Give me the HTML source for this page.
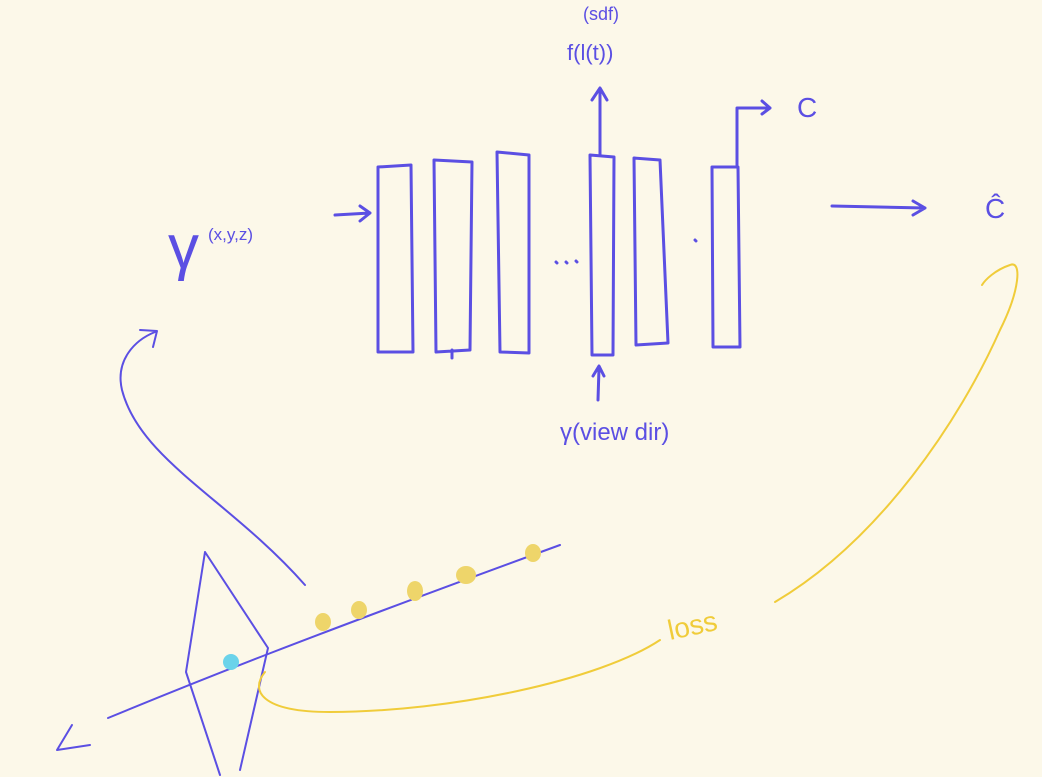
<!DOCTYPE html>
<html><head><meta charset="utf-8"><style>
html,body{margin:0;padding:0;background:#fcf8e9;}
svg{display:block}
text{font-family:"Liberation Sans",sans-serif;}
</style></head><body>
<svg width="1042" height="777" viewBox="0 0 1042 777">
<rect width="1042" height="777" fill="#fcf8e9"/>
<g fill="none" stroke="#5b4fe3" stroke-width="3" stroke-linecap="round" stroke-linejoin="round">
  <path d="M378 167 L411 165 L413 352 L378 352 Z"/>
  <path d="M434 160 L472 162 L470 350 L436 352 Z M452 350 L452 358"/>
  <path d="M497 152 L529 155 L529 353 L500 352 Z"/>
  <path d="M590 155 L614 157 L613 355 L592 355 Z"/>
  <path d="M634 158 L660 160 L668 343 L636 345 Z"/>
  <path d="M712 167 L738 167 L740 347 L713 347 Z"/>
  <path d="M335 215 L370 213 M360 206 L370 213 L360 221"/>
  <path d="M600 155 L600 90 M592 100 L600 88 L607 100"/>
  <path d="M737 165 L737 108 L770 108 M762 101 L770 108 L762 114"/>
  <path d="M832 206 L925 208 M913 201 L925 208 L913 215"/>
  <path d="M598 400 L599 368 M593 376 L599 366 L604 376"/>
  <path d="M556 262 L557 263 M566 262 L567 263 M576 261 L577 262 M695 240 L696 241"/>
  <path d="M305 585 C230 500 140 460 122 390 C115 360 135 340 155 332 M140 330 L157 331 L153 347" stroke-width="2"/>
  <path d="M205 552 L268 648 L240 770 M205 552 L186 672 L220 775" stroke-width="2"/>
  <path d="M108 718 C200 680 300 640 560 545" stroke-width="2"/>
  <path d="M72 725 L57 750 L90 745" stroke-width="2"/>
</g>
<g fill="#eed56a">
  <ellipse cx="323" cy="622" rx="8" ry="9"/><ellipse cx="359" cy="610" rx="8" ry="9"/>
  <ellipse cx="415" cy="591" rx="8" ry="10"/><ellipse cx="466" cy="575" rx="10" ry="9"/>
  <ellipse cx="533" cy="553" rx="8" ry="9"/>
</g>
<circle cx="231" cy="662" r="8" fill="#6bd3ea"/>
<g fill="none" stroke="#f0cc3a" stroke-width="2" stroke-linecap="round">
  <path d="M265 672 C250 690 260 712 330 712 C450 712 600 680 660 640"/>
  <path d="M775 602 C880 540 960 420 1000 330 C1020 290 1022 260 1010 265 C995 270 985 280 982 285"/>
</g>
<g fill="#5b4fe3">
  <text x="168" y="268" font-size="62">γ</text>
  <text x="208" y="240" font-size="17">(x,y,z)</text>
  <text x="583" y="20" font-size="18">(sdf)</text>
  <text x="567" y="60" font-size="22">f(l(t))</text>
  <text x="797" y="117" font-size="28">C</text>
  <text x="985" y="218" font-size="28">Ĉ</text>
  <text x="560" y="440" font-size="24">γ(view dir)</text>
</g>
<text x="670" y="640" font-size="28" fill="#f0cc3a" transform="rotate(-12 670 640)">loss</text>
</svg>
</body></html>
